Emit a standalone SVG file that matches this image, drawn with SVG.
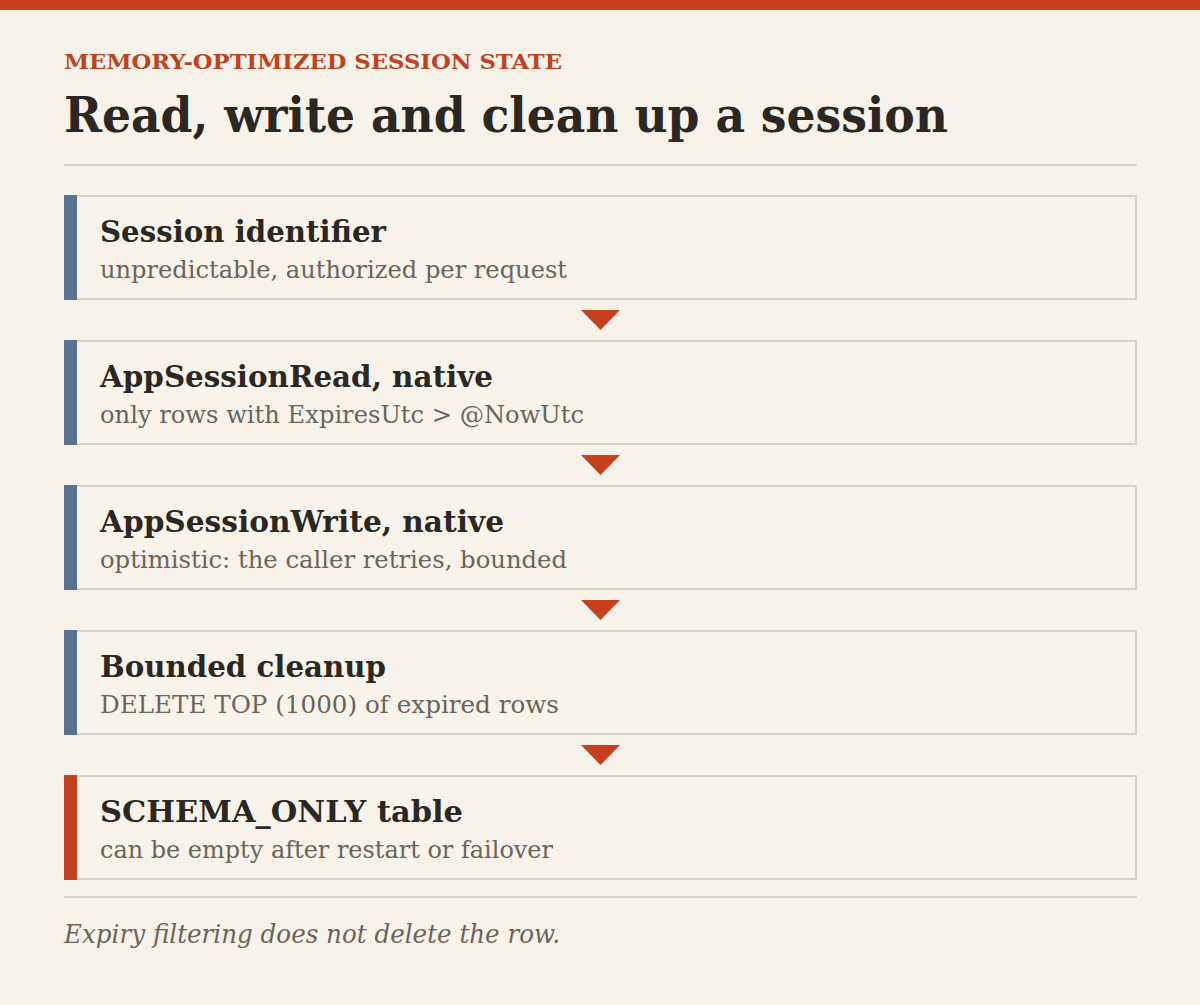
<svg xmlns="http://www.w3.org/2000/svg" width="1200" height="1005" viewBox="0 0 1200 1005">
  <style>
    .bg { fill: #f7f2e9; }
    .topbar { fill: #c4401e; }
    .eyebrow { font-family: "DejaVu Serif", "Liberation Serif", serif; font-weight: bold; font-size: 21px; fill: #bf4220; }
    .title { font-family: "DejaVu Serif", "Liberation Serif", serif; font-weight: bold; font-size: 49px; fill: #2b2722; }
    .rule { stroke: #d9d1c5; stroke-width: 2; fill: none; }
    .box { fill: #f8f3ea; stroke: #d9d1c5; stroke-width: 2; }
    .accent { fill: #587390; }
    .accent-red { fill: #c4401e; }
    .ntitle { font-family: "DejaVu Serif", "Liberation Serif", serif; font-weight: bold; font-size: 29px; fill: #2b2722; }
    .nsub { font-family: "DejaVu Serif", "Liberation Serif", serif; font-size: 24.5px; fill: #6b645b; }
    .arrow { fill: #c4401e; }
    .foot { font-family: "DejaVu Serif", "Liberation Serif", serif; font-style: italic; font-size: 25.5px; fill: #6b645b; }
  </style>
  <rect class="bg" x="0" y="0" width="1200" height="1005"/>
  <rect class="topbar" x="0" y="0" width="1200" height="10"/>

  <g id="header">
    <text class="eyebrow" x="64" y="69" textLength="498" lengthAdjust="spacingAndGlyphs">MEMORY-OPTIMIZED SESSION STATE</text>
    <text class="title" x="64" y="132" textLength="884" lengthAdjust="spacingAndGlyphs">Read, write and clean up a session</text>
    <line class="rule" x1="64" y1="165" x2="1137" y2="165"/>
  </g>

  <g id="connectors">
    <polygon class="arrow" points="581,310 620,310 600.5,330"/>
    <polygon class="arrow" points="581,455 620,455 600.5,475"/>
    <polygon class="arrow" points="581,600 620,600 600.5,620"/>
    <polygon class="arrow" points="581,745 620,745 600.5,765"/>
  </g>

  <g id="node-session-identifier">
    <rect class="box" x="65" y="196" width="1071" height="103"/>
    <rect class="accent" x="64" y="195" width="13" height="105"/>
    <text class="ntitle" x="100" y="242" textLength="286" lengthAdjust="spacingAndGlyphs">Session identifier</text>
    <text class="nsub" x="100" y="278" textLength="467" lengthAdjust="spacingAndGlyphs">unpredictable, authorized per request</text>
  </g>

  <g id="node-appsessionread">
    <rect class="box" x="65" y="341" width="1071" height="103"/>
    <rect class="accent" x="64" y="340" width="13" height="105"/>
    <text class="ntitle" x="100" y="387" textLength="393" lengthAdjust="spacingAndGlyphs">AppSessionRead, native</text>
    <text class="nsub" x="100" y="423" textLength="484" lengthAdjust="spacingAndGlyphs">only rows with ExpiresUtc &gt; @NowUtc</text>
  </g>

  <g id="node-appsessionwrite">
    <rect class="box" x="65" y="486" width="1071" height="103"/>
    <rect class="accent" x="64" y="485" width="13" height="105"/>
    <text class="ntitle" x="100" y="532" textLength="404" lengthAdjust="spacingAndGlyphs">AppSessionWrite, native</text>
    <text class="nsub" x="100" y="568" textLength="467" lengthAdjust="spacingAndGlyphs">optimistic: the caller retries, bounded</text>
  </g>

  <g id="node-bounded-cleanup">
    <rect class="box" x="65" y="631" width="1071" height="103"/>
    <rect class="accent" x="64" y="630" width="13" height="105"/>
    <text class="ntitle" x="100" y="677" textLength="286" lengthAdjust="spacingAndGlyphs">Bounded cleanup</text>
    <text class="nsub" x="100" y="713" textLength="459" lengthAdjust="spacingAndGlyphs">DELETE TOP (1000) of expired rows</text>
  </g>

  <g id="node-schema-only">
    <rect class="box" x="65" y="776" width="1071" height="103"/>
    <rect class="accent-red" x="64" y="775" width="13" height="105"/>
    <text class="ntitle" x="100" y="822" textLength="363" lengthAdjust="spacingAndGlyphs">SCHEMA_ONLY table</text>
    <text class="nsub" x="100" y="858" textLength="453" lengthAdjust="spacingAndGlyphs">can be empty after restart or failover</text>
  </g>

  <g id="footer">
    <line class="rule" x1="64" y1="897" x2="1137" y2="897"/>
    <text class="foot" x="64" y="943" textLength="496" lengthAdjust="spacingAndGlyphs">Expiry filtering does not delete the row.</text>
  </g>
</svg>
